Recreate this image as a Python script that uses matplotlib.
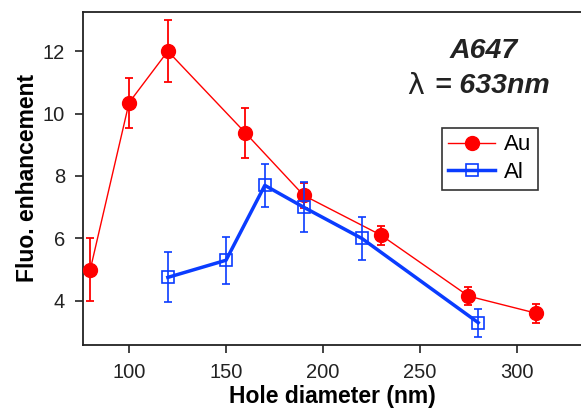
import numpy as np
import matplotlib
matplotlib.use('Agg')
import matplotlib.pyplot as plt
from matplotlib.lines import Line2D

plt.rcParams['font.family'] = ['Liberation Sans', 'DejaVu Sans']

# Au data
au_d = [80, 100, 120, 160, 190, 230, 275, 310]
au_y = [5.0, 10.35, 12.0, 9.38, 7.38, 6.1, 4.15, 3.6]
au_err = [1.0, 0.8, 1.0, 0.8, 0.4, 0.3, 0.3, 0.3]

# Al data
al_d = [120, 150, 170, 190, 220, 280]
al_y = [4.75, 5.3, 7.7, 7.0, 6.0, 3.3]
al_err = [0.8, 0.75, 0.7, 0.8, 0.7, 0.45]

red = '#ff0000'
blue = '#0a3cff'

fig = plt.figure(figsize=(5.81, 4.09), dpi=100)
ax = fig.add_axes([0.143, 0.157, 0.857, 0.814])

ax.errorbar(au_d, au_y, yerr=au_err, color=red, lw=1.0, marker='o', ms=10,
            mfc=red, mec=red, ecolor=red, elinewidth=1.3, capsize=3, capthick=1.3,
            zorder=3)
ax.errorbar(al_d, al_y, yerr=al_err, color=blue, lw=2.5, marker='s', ms=9,
            mfc='none', mec=blue, mew=1.2, ecolor=blue, elinewidth=1.2,
            capsize=3, capthick=1.2, zorder=4)

ax.set_xlim(76.3, 333)
ax.set_ylim(2.59, 13.26)
ax.set_xticks([100, 150, 200, 250, 300])
ax.set_yticks([4, 6, 8, 10, 12])
ax.tick_params(direction='out', length=6, width=1.2, labelsize=14.5,
               colors='#222222', pad=7)
ax.spines['right'].set_visible(False)
for s in ['left', 'bottom', 'top']:
    ax.spines[s].set_linewidth(1.3)
    ax.spines[s].set_color('#222222')

ax.set_xlabel('Hole diameter (nm)', fontsize=16.5, fontweight='bold', labelpad=2)
ax.set_ylabel('Fluo. enhancement', fontsize=16.5, fontweight='bold', labelpad=3)

ax.text(0.805, 0.882, 'A647', transform=ax.transAxes, fontsize=20.5,
        fontweight='bold', fontstyle='italic', ha='center', va='center',
        color='#222222')
ax.text(0.685, 0.777, 'λ', transform=ax.transAxes, fontsize=20.5,
        ha='right', va='center', color='#222222', family='DejaVu Sans')
ax.text(0.69, 0.777, ' = 633nm', transform=ax.transAxes, fontsize=20.5,
        fontweight='bold', fontstyle='italic', ha='left', va='center',
        color='#222222')

handles = [Line2D([], [], color=red, lw=1.0, marker='o', ms=10, mfc=red, mec=red),
           Line2D([], [], color=blue, lw=2.5, marker='s', ms=9, mfc='none',
                  mec=blue, mew=1.2)]
leg = ax.legend(handles, ['Au', 'Al'], loc='upper left',
                bbox_to_anchor=(0.72, 0.652), fontsize=16,
                frameon=True, fancybox=False, edgecolor='black',
                handlelength=2.1, borderpad=0.3, labelspacing=0.3,
                handletextpad=0.4, borderaxespad=0)
leg.get_frame().set_linewidth(1.2)

fig.savefig('out.png', dpi=100)
